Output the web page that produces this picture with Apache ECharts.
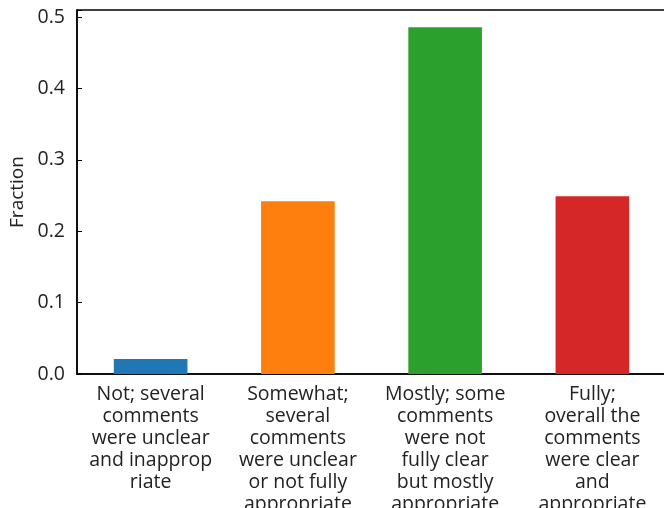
<!DOCTYPE html>
<html><head><meta charset="utf-8">
<script src="https://cdn.jsdelivr.net/npm/echarts@6/dist/echarts.min.js"></script>
<style>html,body{margin:0;padding:0;background:#fff}#c{width:664px;height:508px}</style>
</head><body><div id="c"></div>
<script>
const categories = [
  "Not; several\ncomments\nwere unclear\nand inapprop\nriate",
  "Somewhat;\nseveral\ncomments\nwere unclear\nor not fully\nappropriate",
  "Mostly; some\ncomments\nwere not\nfully clear\nbut mostly\nappropriate",
  "Fully;\noverall the\ncomments\nwere clear\nand\nappropriate"
];
const values = [0.021, 0.242, 0.486, 0.249];
const colors = ["#1f77b4", "#ff7f0e", "#2ca02c", "#d62728"];
const yTicks = [0.0, 0.1, 0.2, 0.3, 0.4, 0.5];

const FONT = "Open Sans";
const chart = echarts.init(document.getElementById('c'));
chart.setOption({
  animation: false,
  grid: { left: 77, right: -2, top: 10, bottom: 134, outerBoundsMode: 'none', containLabel: false,
          show: true, borderColor: '#000', borderWidth: 1.5, backgroundColor: 'transparent' },
  xAxis: {
    type: 'category', data: categories,
    axisLine: { lineStyle: { color: '#000', width: 1.5 } },
    axisTick: { inside: true, alignWithLabel: true, length: 5, lineStyle: { color: '#000' } },
    axisLabel: { color: '#222', fontFamily: FONT, fontSize: 19.5, lineHeight: 22, margin: 9, interval: 0 }
  },
  yAxis: {
    type: 'value', min: 0, max: 0.51, interval: 0.1,
    name: 'Fraction', nameLocation: 'middle', nameGap: 48, nameRotate: 90,
    nameTextStyle: { color: '#222', fontFamily: FONT, fontSize: 19 },
    axisLine: { show: true, lineStyle: { color: '#000', width: 1.5 } },
    axisTick: { show: true, inside: true, length: 5, lineStyle: { color: '#000' } },
    splitLine: { show: false },
    axisLabel: {
      color: '#222', fontFamily: FONT, fontSize: 19.5, margin: 12,
      formatter: v => { const t = yTicks.find(x => Math.abs(x - v) < 1e-9); return t === undefined ? '' : t.toFixed(1); }
    }
  },
  series: [{
    type: 'bar', barWidth: '50%',
    data: values.map((v, i) => ({ value: v, itemStyle: { color: colors[i] } })),
    z: 1
  }]
});
</script></body></html>
